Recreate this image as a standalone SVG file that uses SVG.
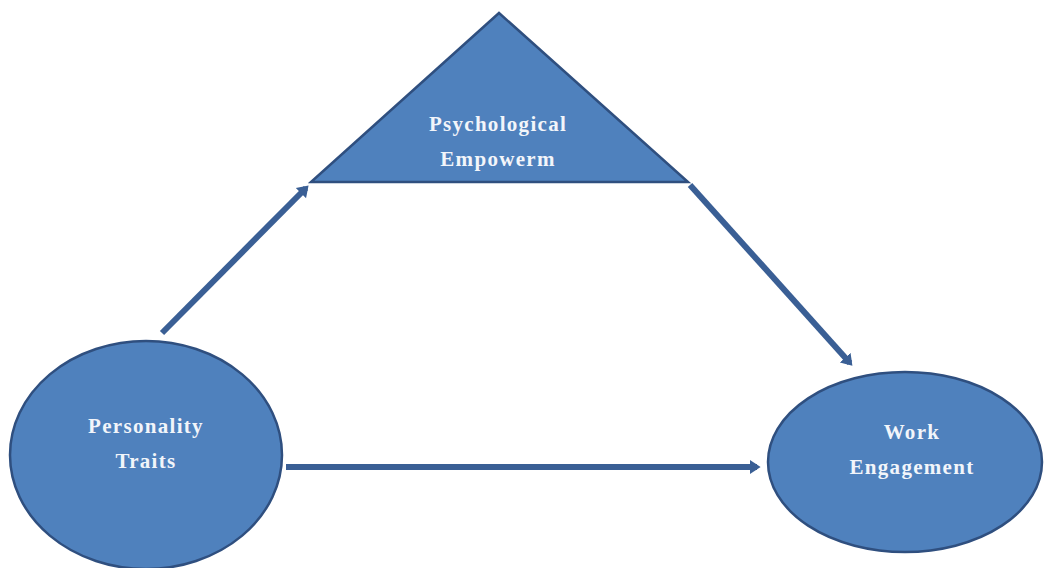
<svg xmlns="http://www.w3.org/2000/svg" width="1044" height="568" viewBox="0 0 1044 568">
<style>
.node{fill:#4F81BD;stroke:#2F4F7F;stroke-width:2.5}
.lbl{font-family:"Liberation Serif","Times New Roman",serif;font-weight:bold;font-size:21px;fill:#F2F5FA;text-anchor:middle;letter-spacing:1.3px}
.conn{stroke:#3A5F95;stroke-width:6;fill:none;marker-end:url(#ah)}
</style>
<defs>
<marker id="ah" markerWidth="4" markerHeight="4" refX="1.2" refY="2" orient="auto" markerUnits="strokeWidth">
<path d="M0,0.8 L1.8,2 L0,3.2 Z" fill="#3A5F95"/>
</marker>
</defs>
<rect width="1044" height="568" fill="#FFFFFF"/>
<g id="connectors">
<line class="conn" x1="162" y1="333" x2="306" y2="188"/>
<line class="conn" x1="690" y1="185" x2="850" y2="363"/>
<line class="conn" x1="286" y1="467" x2="757" y2="467"/>
</g>
<g id="node-psychological-empowerment">
<polygon class="node" points="499,13 311,182 688,182"/>
<text class="lbl" x="498" y="131">Psychological</text>
<text class="lbl" x="498" y="166">Empowerm</text>
</g>
<g id="node-personality-traits">
<ellipse class="node" cx="146" cy="455" rx="136" ry="114"/>
<text class="lbl" x="146" y="433">Personality</text>
<text class="lbl" x="146" y="468">Traits</text>
</g>
<g id="node-work-engagement">
<ellipse class="node" cx="905" cy="462" rx="137" ry="90"/>
<text class="lbl" x="912" y="439">Work</text>
<text class="lbl" x="912" y="474">Engagement</text>
</g>
</svg>
